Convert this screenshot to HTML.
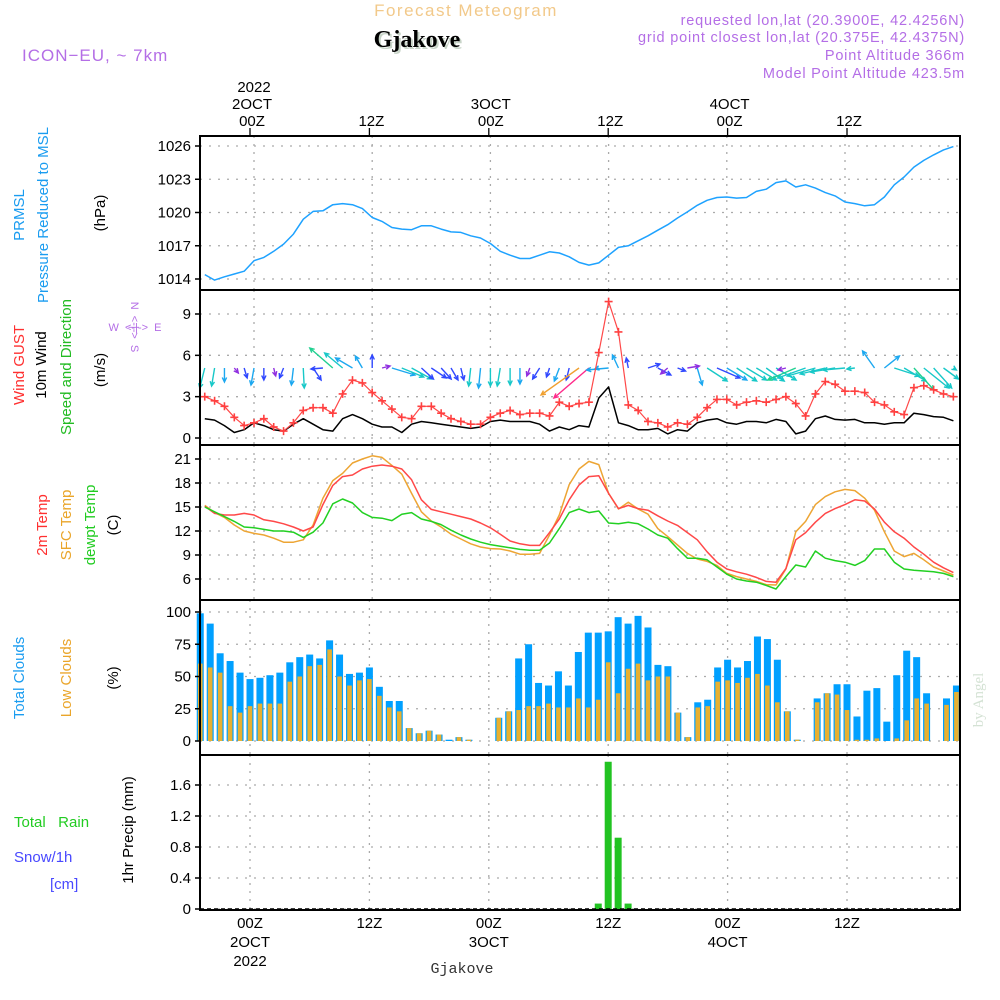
<!DOCTYPE html>
<html><head><meta charset="utf-8"><style>
html,body{margin:0;padding:0;background:#fff;}
svg{display:block;font-family:"Liberation Sans",sans-serif;}
</style></head><body>
<svg id="chart" width="1000" height="1000" viewBox="0 0 1000 1000" xmlns="http://www.w3.org/2000/svg">
<rect width="1000" height="1000" fill="#fff"/>
<g id="header">
<text x="466" y="16" text-anchor="middle" font-size="17" fill="#f2c98a" letter-spacing="1.5">Forecast Meteogram</text>
<text x="419" y="49" text-anchor="middle" font-size="24" font-weight="bold" font-family="Liberation Serif,serif" fill="#c8d4c8">Gjakove</text>
<text x="417" y="47" text-anchor="middle" font-size="24" font-weight="bold" font-family="Liberation Serif,serif" fill="#000">Gjakove</text>
<text x="22" y="61" font-size="17" fill="#b46ee6" letter-spacing="1">ICON−EU, ~ 7km</text>
<g fill="#b46ee6" font-size="14.5" text-anchor="end" letter-spacing="0.8">
<text x="965" y="25">requested lon,lat (20.3900E, 42.4256N)</text>
<text x="965" y="42">grid point closest lon,lat (20.375E, 42.4375N)</text>
<text x="965" y="60">Point Altitude 366m</text>
<text x="965" y="78">Model Point Altitude 423.5m</text>
</g>
</g>
<g id="leftlabels" font-size="15">
<text transform="translate(24,215) rotate(-90)" text-anchor="middle" fill="#1a9cf0">PRMSL</text>
<text transform="translate(48,215) rotate(-90)" text-anchor="middle" fill="#1a9cf0">Pressure Reduced to MSL</text>
<text transform="translate(105,213) rotate(-90)" text-anchor="middle" fill="#000">(hPa)</text>
<text transform="translate(24,365) rotate(-90)" text-anchor="middle" fill="#ff3030">Wind GUST</text>
<text transform="translate(46,365) rotate(-90)" text-anchor="middle" fill="#000">10m Wind</text>
<text transform="translate(71,367) rotate(-90)" text-anchor="middle" fill="#22bb22">Speed and Direction</text>
<text transform="translate(105,370) rotate(-90)" text-anchor="middle" fill="#000">(m/s)</text>
<text x="135" y="331" text-anchor="middle" font-size="11" fill="#b46ee6" xml:space="preserve">W  &lt;-|-&gt;  E</text>
<text transform="translate(131,327) rotate(90)" text-anchor="middle" font-size="11" fill="#b46ee6" xml:space="preserve">N  &lt;-|-&gt;  S</text>
<text transform="translate(47,525) rotate(-90)" text-anchor="middle" fill="#ff3030">2m Temp</text>
<text transform="translate(71,525) rotate(-90)" text-anchor="middle" fill="#eaa52a">SFC Temp</text>
<text transform="translate(95,525) rotate(-90)" text-anchor="middle" fill="#22cc22">dewpt Temp</text>
<text transform="translate(118,525) rotate(-90)" text-anchor="middle" fill="#000">(C)</text>
<text transform="translate(24,678) rotate(-90)" text-anchor="middle" fill="#1a9cf0">Total Clouds</text>
<text transform="translate(71,678) rotate(-90)" text-anchor="middle" fill="#eaa52a">Low Clouds</text>
<text transform="translate(118,678) rotate(-90)" text-anchor="middle" fill="#000">(%)</text>
<text x="14" y="827" fill="#22cc22" xml:space="preserve">Total   Rain</text>
<text x="14" y="862" fill="#4848ff">Snow/1h</text>
<text x="50" y="889" fill="#4848ff">[cm]</text>
<text transform="translate(133,830) rotate(-90)" text-anchor="middle" fill="#000">1hr Precip (mm)</text>
<text transform="translate(983,700) rotate(-90)" text-anchor="middle" font-size="15" font-family="Liberation Serif,serif" fill="#d4e2d4">by Angel</text>
<text x="462" y="973" text-anchor="middle" font-size="15" font-family="Liberation Mono,monospace" fill="#333">Gjakove</text>
</g>
<g id="grid"></g>
<g id="marks"></g>
<g id="frames"></g>
<g id="axes"></g>
</svg>
<script>
// ---- data (hourly, t = -5 .. 71 hours from 00Z 2 Oct 2022) ----
const hourStart = -5;
const pressure = [1014.4,1013.9,1014.2,1014.45,1014.7,1015.65,1015.95,1016.5,1017.15,1018.05,1019.4,1020.1,1020.15,1020.7,1020.8,1020.7,1020.35,1019.55,1019.2,1018.65,1018.5,1018.45,1018.8,1018.8,1018.5,1018.25,1018.2,1017.9,1017.7,1017.2,1016.5,1016.15,1015.85,1015.85,1016.15,1016.45,1016.35,1016.0,1015.5,1015.25,
1015.45,1016.15,1016.85,1017.0,1017.45,1017.9,1018.4,1018.9,1019.5,1020.05,1020.65,1021.1,1021.35,1021.4,1021.3,1021.35,1021.9,1022.1,1022.7,1022.85,1022.3,1022.5,1022.2,1021.8,1021.5,1020.95,1020.8,1020.6,1020.7,1021.4,1022.5,1023.2,1024.1,1024.7,1025.2,1025.65,1025.95];
const gust = [3.0,2.7,2.3,1.5,0.9,1.1,1.4,0.8,0.5,1.1,2.0,2.2,2.2,1.8,3.2,4.2,4.0,3.3,2.7,2.1,1.5,1.4,2.3,2.3,1.8,1.4,1.2,1.0,1.0,1.5,1.8,2.0,1.7,1.8,1.8,1.6,2.6,2.3,2.5,2.6,
6.2,9.9,7.7,2.4,2.0,1.2,1.1,0.8,1.1,1.0,1.5,2.2,2.8,2.8,2.4,2.6,2.7,2.6,2.8,3.0,2.5,1.6,3.2,4.1,3.9,3.4,3.4,3.3,2.6,2.4,1.9,1.7,3.65,3.8,3.5,3.2,3.0];
const wind10 = [1.4,1.3,0.9,0.4,0.6,1.1,0.9,0.6,0.5,1.0,1.4,1.0,0.6,0.5,1.4,1.7,1.4,1.0,0.8,0.8,0.4,1.0,1.2,1.1,1.0,0.9,0.8,0.7,0.8,1.2,1.3,1.2,1.2,1.2,1.0,0.5,0.8,0.6,0.9,0.8,
2.9,3.7,1.1,0.9,0.6,0.6,0.7,0.3,0.6,0.5,1.1,1.3,1.4,1.1,1.0,1.2,1.2,1.1,1.35,1.2,0.3,0.5,1.4,1.6,1.35,1.3,1.35,1.1,1.1,1.0,1.1,1.1,1.8,1.7,1.55,1.5,1.25];
const arrowU = [-5,-3,0,4,3,-3,0,2,-4,-2,1,8,-12,-23,-18,-17,-7,0,8,23,22,20,12,15,10,7,3,-2,-2,0,-3,0,0,-3,-7,-3,-5,-3,-38,-35,-4,-22,-6,-2,0,12,13,-7,8,12,5,20,23,20,20,20,20,18,20,-8,-28,-28,-28,-25,-25,-22,-8,0,-12,15,25,22,20,25,18,15,3];
const arrowV = [20,18,14,5,10,17,12,8,10,17,20,12,1,-20,-15,-10,-12,-13,-2,7,9,11,11,10,11,12,12,18,20,18,18,17,16,8,11,9,13,12,27,30,1,2,-13,-10,0,-4,7,6,3,-2,17,13,10,12,13,12,12,13,12,2,12,10,8,6,4,2,1,0,-17,-12,8,13,22,20,20,11,2];
const arrowKind = ["c","c","lb","p","b","lb","b","p","b","lb","c","b","b","g","c","lb","lb","b","p","lb","c","c","b","b","b","b","b","c","lb","c","c","c","lb","p","b","b","lb","b","o","pk","lb","lb","lb","b","b","b","b","p","b","p","lb","c","b","lb","c","c","c","c","c","p","g","c","c","c","c","c","c","c","lb","lb","c","c","g","c","c","c","c"];
const temp2m = [15.1,14.2,14.0,14.0,14.2,14.0,13.4,13.2,12.9,12.5,12.0,12.5,15.3,17.7,18.8,19.0,19.75,20.1,20.25,20.1,19.75,18.4,15.9,14.7,14.4,14.1,13.8,13.5,13.0,12.4,11.6,10.75,10.4,10.2,10.2,11.8,13.5,15.9,17.75,18.8,
18.9,16.7,14.8,15.2,14.8,14.6,13.9,13.25,12.7,11.8,10.9,9.4,8.1,7.25,6.9,6.6,6.2,5.7,5.6,7.3,10.9,11.8,13.1,14.2,14.8,15.3,15.9,15.75,14.75,13.1,11.9,11.1,10.0,9.1,8.1,7.4,6.8];
const sfcTemp = [15.2,14.3,13.7,12.75,12.0,11.7,11.5,11.1,10.6,10.6,10.9,12.75,16.1,18.3,19.2,20.5,21.0,21.4,21.2,20.2,19.1,16.7,14.4,13.25,12.5,11.6,11.0,10.4,10.0,9.8,9.75,9.5,9.1,9.1,9.2,11.5,14.0,17.8,19.75,20.7,
20.3,16.7,14.75,15.6,14.75,14.1,12.3,11.3,10.25,9.2,8.5,8.2,7.7,6.7,6.3,6.0,5.7,5.3,5.25,7.25,11.9,13.2,15.3,16.3,16.9,17.2,17.05,16.1,14.6,11.9,9.5,8.8,9.2,8.4,7.5,7.0,6.5];
const dewpt = [15.0,14.4,13.8,13.2,12.5,12.4,12.2,12.0,12.0,11.85,11.2,11.85,13.0,15.4,16.0,15.5,14.3,13.7,13.6,13.3,14.1,14.3,13.5,13.2,12.8,12.1,11.5,11.0,10.6,10.3,10.1,9.9,9.7,9.6,9.6,10.5,12.3,14.3,14.75,14.3,
14.5,13.0,12.9,13.1,12.9,12.25,11.5,11.1,9.8,8.6,8.6,8.4,7.5,6.6,6.0,5.75,5.6,5.2,4.75,6.3,7.75,7.5,9.5,8.6,8.3,8.1,7.7,8.3,9.75,9.75,8.1,7.25,7.1,7.0,6.9,6.7,6.3];
const totalClouds = [99,91,68,62,53,48,49,51,53,61,65,67,64,78,67,52,53,57,42,31,31,10,6,8,5,1,3,1,0,0,
18,23,64,75,45,43,54,43,69,84,84,85,96,91,97,88,59,58,22,3,30,32,57,63,57,62,81,79,63,23,
1,0,33,37,44,44,19,39,41,15,51,70,65,37,0,33,43];
const lowClouds = [60,57,53,27,22,27,29,29,29,46,50,58,59,71,50,43,47,48,35,26,23,10,6,8,5,0,3,1,0,0,
18,23,24,27,27,29,26,26,33,26,32,61,37,56,60,47,50,50,22,3,26,27,46,47,45,49,52,43,30,23,
1,0,30,37,36,24,1,1,2,0,2,16,33,29,0,28,38];
const precip = [0,0,0,0,0,0,0,0,0,0,0,0,0,0,0,0,0,0,0,0,0,0,0,0,0,0,0,0,0,0,0,0,0,0,0,0,0,0,0,0,0.07,1.9,0.92,0.07,0,0,0,0,0,0,0,0,0,0,0,0,0,0,0,0,0,0,0,0,0,0,0,0,0,0,0,0,0,0,0,0,0];
const pressureTicks = [1014,1017,1020,1023,1026];
const windTicks = [0,3,6,9];
const tempTicks = [6,9,12,15,18,21];
const cloudTicks = [0,25,50,75,100];
const precipTicks = [0,0.4,0.8,1.2,1.6];
const timeTicks = [0,12,24,36,48,60];
const timeLabels = ["00Z","12Z","00Z","12Z","00Z","12Z"];
const dateLabels = ["2OCT","","3OCT","","4OCT",""];

// ---- scales ----
const NS="http://www.w3.org/2000/svg";
const X0=200, X1=960;
function xl(t){return 254+9.85*t;}
function xb(t){return 250+9.95*t;}
function lin(v0,y0,v1,y1){return v=>y0+(v-v0)*(y1-y0)/(v1-v0);}
const yP=lin(1026,146,1014,279);
const yW=lin(9,314,0,438);
const yT=lin(21,459,6,579);
const yC=lin(100,612,0,741);
const yR=lin(1.6,785,0,909);
const panels=[
 {top:136,bot:290,y:yP,ticks:pressureTicks,fmt:v=>String(v),xf:xl,name:'pressure'},
 {top:290,bot:445,y:yW,ticks:windTicks,fmt:v=>String(v),xf:xl,name:'wind'},
 {top:445,bot:600,y:yT,ticks:tempTicks,fmt:v=>String(v),xf:xl,name:'temperature'},
 {top:600,bot:755,y:yC,ticks:cloudTicks,fmt:v=>String(v),xf:xb,name:'clouds'},
 {top:755,bot:910,y:yR,ticks:precipTicks,fmt:v=>v===0?'0':String(v),xf:xb,name:'precip'}
];
function mk(tag,attrs,parent){const e=document.createElementNS(NS,tag);for(const k in attrs)e.setAttribute(k,attrs[k]);parent.appendChild(e);return e;}
const gGrid=document.getElementById('grid'),gMarks=document.getElementById('marks'),gFr=document.getElementById('frames'),gAx=document.getElementById('axes');

panels.forEach(p=>{
  p.ticks.forEach(v=>{
    const y=p.y(v);
    const gl=mk('line',{x1:X0,x2:X1,y1:y,y2:y,stroke:'#aaa','stroke-width':1.3,'stroke-dasharray':'2,7'},gGrid);
    
    
    const tk=mk('line',{x1:195,x2:200,y1:y,y2:y,stroke:'#000','stroke-width':1.5},gAx);
    
    
    const tx=mk('text',{x:191,y:y+5,'text-anchor':'end','font-size':15,fill:'#000'},gAx);
    tx.textContent=p.fmt(v);
    
    
  });
  timeTicks.forEach(t=>{
    const x=p.xf(t);
    const gl=mk('line',{x1:x,x2:x,y1:p.top,y2:p.bot,stroke:'#aaa','stroke-width':1.3,'stroke-dasharray':'2,6'},gGrid);
    
    
  });
  const fr=mk('rect',{x:X0,y:p.top,width:X1-X0,height:p.bot-p.top,fill:'none',stroke:'#000','stroke-width':2},gFr);
  
  
});

// time axis labels
timeTicks.forEach((t,i)=>{
  const x=xb(t);
  const tk=mk('line',{x1:x,x2:x,y1:128,y2:136,stroke:'#000','stroke-width':1.3},gAx);
  
  
  const a=mk('text',{x:x+2,y:126,'text-anchor':'middle','font-size':15},gAx);
  a.textContent=timeLabels[i];
  
  
  const b=mk('text',{x:x,y:928,'text-anchor':'middle','font-size':15},gAx);
  b.textContent=timeLabels[i];
  
  
  if(dateLabels[i]){
    const c=mk('text',{x:x+2,y:109,'text-anchor':'middle','font-size':15},gAx);
    c.textContent=dateLabels[i];
    
    
    const d=mk('text',{x:x,y:947,'text-anchor':'middle','font-size':15},gAx);
    d.textContent=dateLabels[i];
    
    
  }
});
const y1=mk('text',{x:254,y:92,'text-anchor':'middle','font-size':15},gAx);
y1.textContent='2022';


const y2=mk('text',{x:250,y:966,'text-anchor':'middle','font-size':15},gAx);
y2.textContent='2022';



function polyline(arr,yf,color,name,w){
  const pts=arr.map((v,i)=>xl(hourStart+i).toFixed(1)+','+yf(v).toFixed(1)).join(' ');
  const pl=mk('polyline',{points:pts,fill:'none',stroke:color,'stroke-width':w||1.5,'stroke-linejoin':'round'},gMarks);
  
  
}
// pressure
polyline(pressure,yP,'#1ea2ff','pressure-line');
// clouds
totalClouds.forEach((v,i)=>{
  const x=xb(hourStart+i),y=yC(v);
  const r=mk('rect',{x:x-3.5,y:y,width:7,height:yC(0)-y,fill:'#00a0ff'},gMarks);
  
  
});
lowClouds.forEach((v,i)=>{
  const x=xb(hourStart+i),y=yC(v);
  const r=mk('rect',{x:x-2.3,y:y,width:4.6,height:yC(0)-y,fill:'#e8b030'},gMarks);
  
  
});
// precip
precip.forEach((v,i)=>{
  if(v<=0)return;
  const x=xb(hourStart+i),y=yR(v);
  const r=mk('rect',{x:x-3.5,y:y,width:7,height:yR(0)-y,fill:'#22c322'},gMarks);
  
  
});
const pz=mk('line',{x1:X0,x2:X1,y1:yR(0),y2:yR(0),stroke:'#000','stroke-width':1.5,'stroke-dasharray':'4,3'},gMarks);


// temperatures
polyline(sfcTemp,yT,'#eda534','sfc-temp-line');
polyline(temp2m,yT,'#ff4848','temp-2m-line');
polyline(dewpt,yT,'#22d022','dewpoint-line');
// wind arrows
const kindColor={c:'#18c8c8',lb:'#1ca8f0',b:'#3048ff',p:'#9030e0',g:'#20d090',o:'#f0a030',pk:'#ff2a8a'};
arrowU.forEach((u,i)=>{
  const v=arrowV[i];
  if(u===0&&v===0)return;
  const x0=xl(hourStart+i),y0=368,x1=x0+u,y1=y0+v;
  const ang=Math.atan2(v,u),L=5;
  const c=kindColor[arrowKind[i]];
  const d=`M${x0},${y0}L${x1},${y1}M${x1-L*Math.cos(ang-0.45)},${y1-L*Math.sin(ang-0.45)}L${x1},${y1}L${x1-L*Math.cos(ang+0.45)},${y1-L*Math.sin(ang+0.45)}`;
  const pth=mk('path',{d:d,stroke:c,'stroke-width':1.4,fill:'none'},gMarks);
  
  
});
// wind lines
polyline(wind10,yW,'#000','wind-10m-line');
polyline(gust,yW,'#ff4848','gust-line',1.2);
gust.forEach((g,i)=>{
  const x=xl(hourStart+i),y=yW(g);
  const m=mk('path',{d:`M${x-4},${y}H${x+4}M${x},${y-4}V${y+4}`,stroke:'#ff4040','stroke-width':1.6},gMarks);
  
  
});
</script>
</body></html>
